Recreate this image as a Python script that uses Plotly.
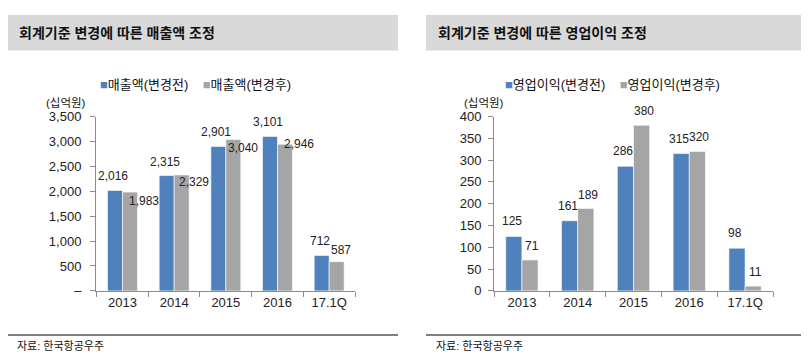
import plotly.graph_objects as go

# ---- data ----
categories = ["2013", "2014", "2015", "2016", "17.1Q"]
sales_before = [2016, 2315, 2901, 3101, 712]
sales_after = [1983, 2329, 3040, 2946, 587]
op_before = [125, 161, 286, 315, 98]
op_after = [71, 189, 380, 320, 11]

sales_ticks = [0, 500, 1000, 1500, 2000, 2500, 3000, 3500]
op_ticks = [0, 50, 100, 150, 200, 250, 300, 350, 400]

left_title = "회계기준 변경에 따른 매출액 조정"
right_title = "회계기준 변경에 따른 영업이익 조정"
sales_names = ["매출액(변경전)", "매출액(변경후)"]
op_names = ["영업이익(변경전)", "영업이익(변경후)"]
unit_label = "(십억원)"
source_label = "자료: 한국항공우주"

# label offsets (pixels) for the left chart's second-series labels, as placed in the original
sales_after_label_shift = [(14, -9), (12, -7), (10, -9), (14, 0), (4, 12)]

BLUE = "#4F81BD"
GRAY = "#A5A5A5"
FONT = "Liberation Sans, Arial, Noto Sans CJK KR, sans-serif"
W, H = 809, 357
BARGAP = 0.42

fig = go.Figure()

def add_bars(xa, ya, before, after, names):
    for vals, col, nm in ((before, BLUE, names[0]), (after, GRAY, names[1])):
        fig.add_trace(go.Bar(
            x=categories, y=vals, name=nm, xaxis=xa, yaxis=ya,
            marker=dict(color=col, line=dict(color="rgba(255,255,255,0.6)", width=1)),
            showlegend=False, hoverinfo="x+y",
        ))

add_bars("x", "y", sales_before, sales_after, sales_names)
add_bars("x2", "y2", op_before, op_after, op_names)

bw = (1 - BARGAP) / 2
annotations = []

def label(xref, yref, i, v, fmt, dx=0, dy=9):
    annotations.append(dict(
        x=i, y=v, xref=xref, yref=yref, text=fmt.format(v),
        showarrow=False, xanchor="center", yanchor="middle",
        xshift=dx, yshift=dy, font=dict(family=FONT, size=12, color="#222"),
    ))

for i, v in enumerate(sales_before):
    label("x", "y", i - bw / 2, v, "{:,}", dx=-2, dy=14)
for i, v in enumerate(sales_after):
    dx, dy = sales_after_label_shift[i]
    label("x", "y", i + bw / 2, v, "{:,}", dx=dx, dy=dy)
for i, v in enumerate(op_before):
    label("x2", "y2", i - bw / 2, v, "{:,}", dx=-2, dy=15)
for i, v in enumerate(op_after):
    label("x2", "y2", i + bw / 2, v, "{:,}", dx=2, dy=14)

# title bars, separators
shapes = [
    dict(type="rect", xref="paper", yref="paper", x0=0, x1=390 / W, y0=1 - 37 / H, y1=1,
         fillcolor="#D9D9D9", line=dict(width=0), layer="below"),
    dict(type="rect", xref="paper", yref="paper", x0=418 / W, x1=1, y0=1 - 37 / H, y1=1,
         fillcolor="#D9D9D9", line=dict(width=0), layer="below"),
    dict(type="line", xref="paper", yref="paper", x0=0, x1=390 / W, y0=1 - 334 / H, y1=1 - 334 / H,
         line=dict(color="#808080", width=2)),
    dict(type="line", xref="paper", yref="paper", x0=418 / W, x1=1, y0=1 - 334 / H, y1=1 - 334 / H,
         line=dict(color="#808080", width=2)),
]

def paper_text(x, y, text, size, bold=False, xanchor="left"):
    annotations.append(dict(
        x=x / W, y=1 - y / H, xref="paper", yref="paper", text=("<b>%s</b>" % text) if bold else text,
        showarrow=False, xanchor=xanchor, yanchor="middle",
        font=dict(family=FONT, size=size, color="#111"),
    ))

paper_text(9, 19, left_title, 14, bold=True)
paper_text(428, 19, right_title, 14, bold=True)
paper_text(36, 91, unit_label, 11.5)
paper_text(454, 91, unit_label, 11.5)
paper_text(7, 345, source_label, 11)
paper_text(426, 345, source_label, 11)

def legend_text(x, names):
    txt = ('<span style="color:%s">■</span>%s&nbsp;&nbsp;&nbsp;&nbsp;'
           '<span style="color:%s">■</span>%s') % (BLUE, names[0], GRAY, names[1])
    paper_text(x, 73, txt, 13)

legend_text(90, sales_names)
legend_text(495, op_names)

axis_common = dict(
    showline=True, linecolor="#8C8C8C", linewidth=1, ticks="outside", ticklen=5,
    tickcolor="#8C8C8C", showgrid=False, zeroline=False,
    tickfont=dict(family=FONT, size=13, color="#222"),
)
ydom = [69 / H, 251 / H]

fig.update_layout(
    width=W, height=H, margin=dict(l=0, r=0, t=0, b=0),
    paper_bgcolor="white", plot_bgcolor="white",
    barmode="group", bargap=BARGAP, bargroupgap=0,
    showlegend=False,
    xaxis=dict(domain=[88 / W, 347 / W], tickson="boundaries", anchor="y", **axis_common),
    yaxis=dict(domain=ydom, range=[0, 3500], tickvals=sales_ticks,
               ticktext=["–"] + ["{:,}".format(t) for t in sales_ticks[1:]],
               ticklabelstandoff=6, anchor="x", **axis_common),
    xaxis2=dict(domain=[486 / W, 765 / W], tickson="boundaries", anchor="y2", **axis_common),
    yaxis2=dict(domain=ydom, range=[0, 400], tickvals=op_ticks,
                ticktext=[str(t) for t in op_ticks], ticklabelstandoff=4, anchor="x2", **axis_common),
    annotations=annotations, shapes=shapes,
    font=dict(family=FONT),
)

fig.write_html("out.html")
